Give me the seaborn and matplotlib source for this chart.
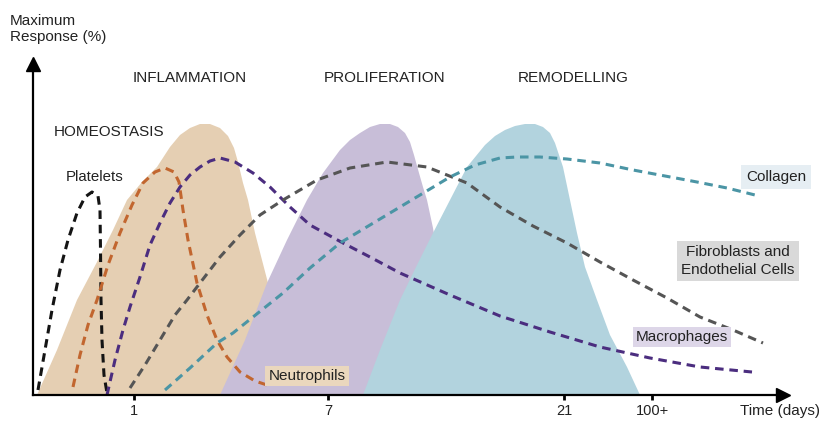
import numpy as np
import pandas as pd
import matplotlib
matplotlib.use("Agg")
import matplotlib.pyplot as plt
import seaborn as sns

# time position along the axis (arbitrary units) and response (arbitrary units)
tick_pos = [101, 295, 531, 619]
tick_labels = ["1", "7", "21", "100+"]

# phase areas
inflam_t = [4, 24, 44, 64, 80, 94, 109, 124, 137, 147, 157, 167, 177, 187, 195, 201, 205, 210, 215, 222, 229, 235, 245, 257, 267]
inflam_r = [0, 45, 95, 133, 165, 195, 213, 228, 248, 260, 267, 271, 271, 267, 259, 247, 233, 212, 195, 162, 135, 112, 75, 35, 0]

prolif_t = [187, 212, 234, 254, 274, 290, 307, 317, 327, 337, 347, 357, 365, 372, 377, 381, 386, 390, 394, 400, 407, 417, 427]
prolif_r = [0, 55, 112, 155, 195, 222, 245, 255, 262, 268, 271, 271, 268, 262, 253, 240, 222, 208, 195, 167, 125, 75, 0]

remod_t = [330, 347, 367, 384, 400, 417, 434, 452, 462, 472, 482, 492, 502, 510, 517, 522, 526, 530, 537, 544, 552, 564, 577, 594, 607]
remod_r = [0, 45, 95, 130, 162, 195, 228, 250, 259, 265, 269, 271, 271, 268, 262, 252, 240, 228, 195, 162, 128, 95, 60, 28, 0]

# cell curves
platelets_t = [5, 12, 19, 27, 35, 44, 52, 59, 65, 67, 67.5, 68, 69, 71, 74]
platelets_r = [5, 45, 85, 125, 155, 182, 198, 203, 199, 185, 145, 95, 55, 20, 2]

neutro_t = [40, 47, 55, 64, 75, 87, 99, 110, 122, 132, 141, 146, 150, 155, 164, 174, 184, 194, 207, 222, 234]
neutro_r = [8, 40, 70, 95, 130, 162, 190, 212, 223, 227, 223, 213, 185, 155, 112, 80, 55, 38, 23, 14, 10]

macro_t = [74, 82, 90, 97, 107, 117, 127, 137, 147, 157, 167, 177, 187, 202, 220, 237, 257, 277, 310, 337, 367, 417, 467, 517, 567, 617, 667, 719]
macro_r = [0, 35, 65, 88, 118, 150, 172, 192, 208, 220, 228, 234, 237, 233, 222, 208, 188, 170, 152, 138, 122, 100, 79, 63, 48, 37, 28, 23]

fibro_t = [97, 112, 127, 142, 154, 167, 187, 207, 227, 250, 267, 284, 317, 354, 394, 434, 467, 500, 534, 567, 600, 634, 667, 700, 730]
fibro_r = [7, 30, 55, 80, 95, 112, 138, 160, 180, 195, 205, 215, 227, 233, 228, 212, 188, 169, 152, 133, 115, 97, 78, 65, 52]

collagen_t = [132, 157, 184, 200, 225, 250, 277, 307, 337, 367, 392, 417, 442, 467, 484, 507, 534, 567, 600, 632, 664, 694, 722]
collagen_r = [5, 27, 52, 62, 82, 102, 127, 152, 170, 188, 203, 218, 230, 237, 238, 238, 236, 232, 225, 219, 213, 207, 200]

curves = pd.concat([
    pd.DataFrame({"t": platelets_t, "r": platelets_r, "cell": "Platelets"}),
    pd.DataFrame({"t": neutro_t, "r": neutro_r, "cell": "Neutrophils"}),
    pd.DataFrame({"t": macro_t, "r": macro_r, "cell": "Macrophages"}),
    pd.DataFrame({"t": fibro_t, "r": fibro_r, "cell": "Fibroblasts"}),
    pd.DataFrame({"t": collagen_t, "r": collagen_r, "cell": "Collagen"}),
], ignore_index=True)

colors = {"Platelets": "#141414", "Neutrophils": "#c2662f", "Macrophages": "#4b2d7f",
          "Fibroblasts": "#555555", "Collagen": "#4b95a5"}

sns.set_style("white")
plt.rcParams['font.family'] = ['Liberation Sans', 'DejaVu Sans']
txt = "#222222"

fig = plt.figure(figsize=(8.22, 4.21), dpi=100)
ax = fig.add_axes([0, 0, 1, 1])

ax.fill(inflam_t, inflam_r, color="#e5cfb3", lw=0, zorder=1)
ax.fill(prolif_t, prolif_r, color="#c8bed8", lw=0, zorder=2)
ax.fill(remod_t, remod_r, color="#b2d3de", lw=0, zorder=3)

sns.lineplot(data=curves, x="t", y="r", hue="cell", palette=colors, sort=False,
             estimator=None, legend=False, lw=2.2, linestyle=(0, (2.8, 1.9)),
             ax=ax, zorder=5)

ax.set_xlim(-33, 789)
ax.set_ylim(-26, 395)
ax.set_xlabel("")
ax.set_ylabel("")

# axes with arrows
for s in ["top", "right"]:
    ax.spines[s].set_visible(False)
ax.spines["bottom"].set_position(("data", 0))
ax.spines["left"].set_position(("data", 0))
ax.spines["bottom"].set_bounds(0, 750)
ax.spines["left"].set_bounds(0, 326)
for s in ["bottom", "left"]:
    ax.spines[s].set_linewidth(1.6)
    ax.spines[s].set_color("black")
    ax.spines[s].set_zorder(6)
ax.plot([750], [0], marker=">", color="black", ms=10, clip_on=False, zorder=7)
ax.plot([0], [331], marker="^", color="black", ms=10, clip_on=False, zorder=7)

ax.set_xticks(tick_pos)
ax.set_xticklabels(tick_labels)
ax.set_yticks([])
ax.tick_params(axis="x", direction="out", length=3.5, width=2, color="black",
               pad=3, labelsize=10.5, labelcolor=txt, bottom=True)

# labels
ax.text(-23, 381, "Maximum\nResponse (%)", ha="left", va="top", fontsize=11,
        color=txt, linespacing=1.2)
ax.text(740 - 33, -16, "Time (days)", ha="left", va="center", fontsize=11, color=txt)
for x, name in [(157, "INFLAMMATION"), (352, "PROLIFERATION"), (540, "REMODELLING")]:
    ax.text(x, 317, name, ha="center", va="center", fontsize=11, color=txt)
ax.text(76, 263, "HOMEOSTASIS", ha="center", va="center", fontsize=11, color=txt)
ax.text(62, 218, "Platelets", ha="center", va="center", fontsize=10.8, color=txt)

box = dict(boxstyle="square,pad=0.22", ec="none")
ax.text(274, 19, "Neutrophils", ha="center", va="center", fontsize=11, color=txt,
        bbox={**box, "fc": "#ead7bd"}, zorder=8)
ax.text(649, 58, "Macrophages", ha="center", va="center", fontsize=11, color=txt,
        bbox={**box, "fc": "#ddd6e8"}, zorder=8)
ax.text(705, 134, "Fibroblasts and\nEndothelial Cells", ha="center", va="center",
        fontsize=11, color=txt, linespacing=1.3,
        bbox={**box, "fc": "#d9d9d9", "boxstyle": "square,pad=0.3"}, zorder=8)
ax.text(743, 218, "Collagen", ha="center", va="center", fontsize=11, color=txt,
        bbox={**box, "fc": "#e6eef3", "boxstyle": "square,pad=0.3"}, zorder=8)

fig.savefig("out.png", dpi=100)
